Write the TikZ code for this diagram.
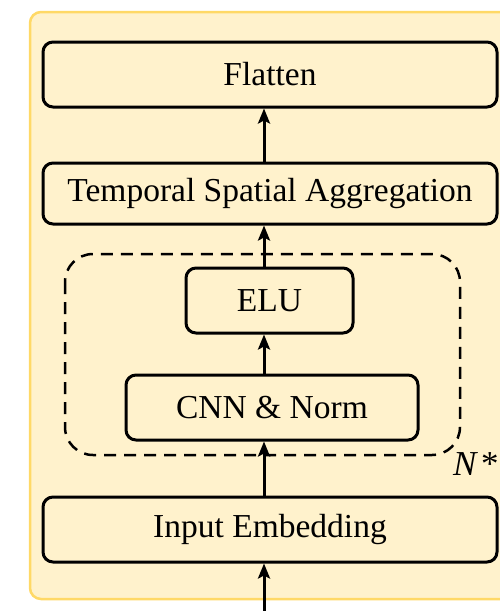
\documentclass[tikz,border=0pt]{standalone}
\usepackage{fontspec}
\setmainfont{Liberation Serif}
\usepackage{tikz}
\usetikzlibrary{arrows.meta}
\definecolor{panelfill}{HTML}{FFF2CC}
\definecolor{paneledge}{HTML}{FFD966}

\begin{document}
\begin{tikzpicture}[x=1pt, y=-1pt, >={Stealth[length=15pt, width=12pt, inset=3pt]},
  every node/.style={font=\fontsize{33.5}{40}\selectfont},
  block/.style={draw, line width=3pt, rounded corners=10pt, fill=panelfill,
    inner sep=0pt, align=center},
  flow/.style={->, line width=3pt}]

  % --- frame ---
  \useasboundingbox (0,0) rectangle (500,611);
  \clip (0,0) rectangle (500,611);
  \fill[white] (0,0) rectangle (500,611);
  \draw[paneledge, fill=panelfill, line width=2.5pt, rounded corners=11pt]
    (30,12) rectangle (530,599);

  % --- x of the arrows ---
  \def\xa{264}

  % ============================================================
  % blocks
  % ============================================================
  \node[block, minimum width=454pt, minimum height=65pt] (flat) at (270,74.5) {Flatten};
  \node[block, minimum width=454pt, minimum height=61pt] (tsa) at (270,193.5) {Temporal Spatial Aggregation};
  \node[block, minimum width=167pt, minimum height=65pt] (elu) at (269.5,300.5) {ELU};
  \node[block, minimum width=292pt, minimum height=65pt] (cnn) at (272,407.5) {CNN \& Norm};
  \node[block, minimum width=454pt, minimum height=65pt] (emb) at (270,529.5) {Input Embedding};

  % repeated part
  \draw[line width=2.5pt, dash pattern=on 12pt off 8pt, rounded corners=28pt]
    (65,254) rectangle (460,455);
  \node[anchor=west, inner sep=0pt] (rep) at (453,464)
    {\fontsize{35}{40}\selectfont\textit{N}\hspace{3pt}*};

  % ============================================================
  % connectors
  % ============================================================
  \coordinate (src) at (\xa,615);
  \draw[flow] (src) -- (emb.south -| src);
  \draw[flow] (emb.north -| src) -- (cnn.south -| src);
  \draw[flow] (cnn.north -| src) -- (elu.south -| src);
  \draw[flow] (elu.north -| src) -- (tsa.south -| src);
  \draw[flow] (tsa.north -| src) -- (flat.south -| src);

\end{tikzpicture}
\end{document}
